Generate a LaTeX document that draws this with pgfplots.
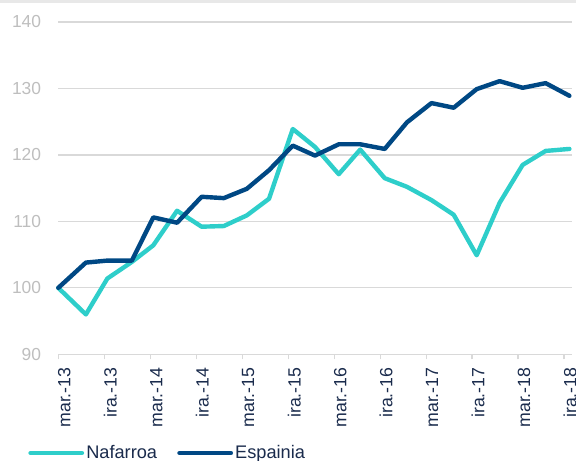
\documentclass[border=0pt]{standalone}
\usepackage{fontspec}
\setmainfont{Liberation Sans}
\usepackage{pgfplots}
\usepackage{pgfplotstable}
\pgfplotsset{compat=1.18}
\definecolor{naf}{RGB}{46,206,202}
\definecolor{esp}{RGB}{0,72,132}
\definecolor{gridc}{RGB}{217,217,217}
\definecolor{ylab}{RGB}{190,190,190}
\definecolor{xlab}{RGB}{26,43,76}
\definecolor{topband}{RGB}{232,232,232}
\pgfplotstableread{
x    naf    esp
0    100.0  100.0
3.6  96.0   103.8
6.4  101.4  104.1
9.6  103.9  104.1
12.4 106.4  110.6
15.5 111.6  109.8
18.7 109.2  113.7
21.6 109.3  113.5
24.6 110.9  114.9
27.5 113.4  117.7
30.6 123.9  121.4
33.5 121.2  119.9
36.6 117.1  121.6
39.4 120.8  121.6
42.6 116.5  120.9
45.5 115.2  124.9
48.7 113.2  127.8
51.6 111.0  127.1
54.6 104.9  129.9
57.6 112.8  131.1
60.6 118.5  130.1
63.6 120.6  130.8
66.7 120.9  128.9
}\data
\begin{document}
\begin{tikzpicture}
\useasboundingbox (-58.3bp,-106.7bp) rectangle (517.7bp,354.3bp);
\fill[topband] (-58.3bp,351.3bp) rectangle (517.7bp,354.3bp);
\begin{axis}[
  scale only axis, width=513.4bp, height=332.3bp,
  at={(0,0)}, anchor=south west,
  xmin=0, xmax=67, ymin=90, ymax=140,
  clip=false,
  xtick={0,6,...,66},
  xticklabels={mar.-13,ira.-13,mar.-14,ira.-14,mar.-15,ira.-15,mar.-16,ira.-16,mar.-17,ira.-17,mar.-18,ira.-18},
  ytick={90,100,...,140},
  axis line style={draw=none},
  ymajorgrids, grid style={gridc, line width=1.2bp},
  xtick pos=left, ytick pos=left,
  ytick style={draw=none},
  xtick style={gridc, line width=1.2bp},
  tick align=outside, major tick length=5bp,
  /pgf/number format/assume math mode=true,
  yticklabel style={font=\fontsize{17.4bp}{20bp}\selectfont, text=ylab, anchor=east, inner sep=0pt, xshift=-12bp},
  xticklabel style={font=\fontsize{17.7bp}{20bp}\selectfont, text=xlab, xshift=6bp, yshift=-8bp, rotate=90, anchor=east, inner sep=0pt},
  legend columns=2,
  legend style={at={(-0.0629,-0.297)}, anchor=west, draw=none, fill=none, inner sep=0pt,
    font=\fontsize{18.2bp}{20bp}\selectfont, text=xlab,
    nodes={inner sep=0pt},
    /tikz/column sep=0bp,
    /tikz/every even column/.append style={column sep=18bp}},
  legend image code/.code={\path (0bp,0bp) (55.7bp,0bp); \draw[#1, line width=4.5bp, line cap=round] (2.2bp,0bp) -- (53.5bp,0bp);},
]
\addplot[naf, line width=4.4bp, line join=round, line cap=round] table[x=x,y=naf] {\data};
\addlegendentry{Nafarroa}
\addplot[esp, line width=4.4bp, line join=round, line cap=round] table[x=x,y=esp] {\data};
\addlegendentry{Espainia}
\end{axis}
\end{tikzpicture}
\end{document}
